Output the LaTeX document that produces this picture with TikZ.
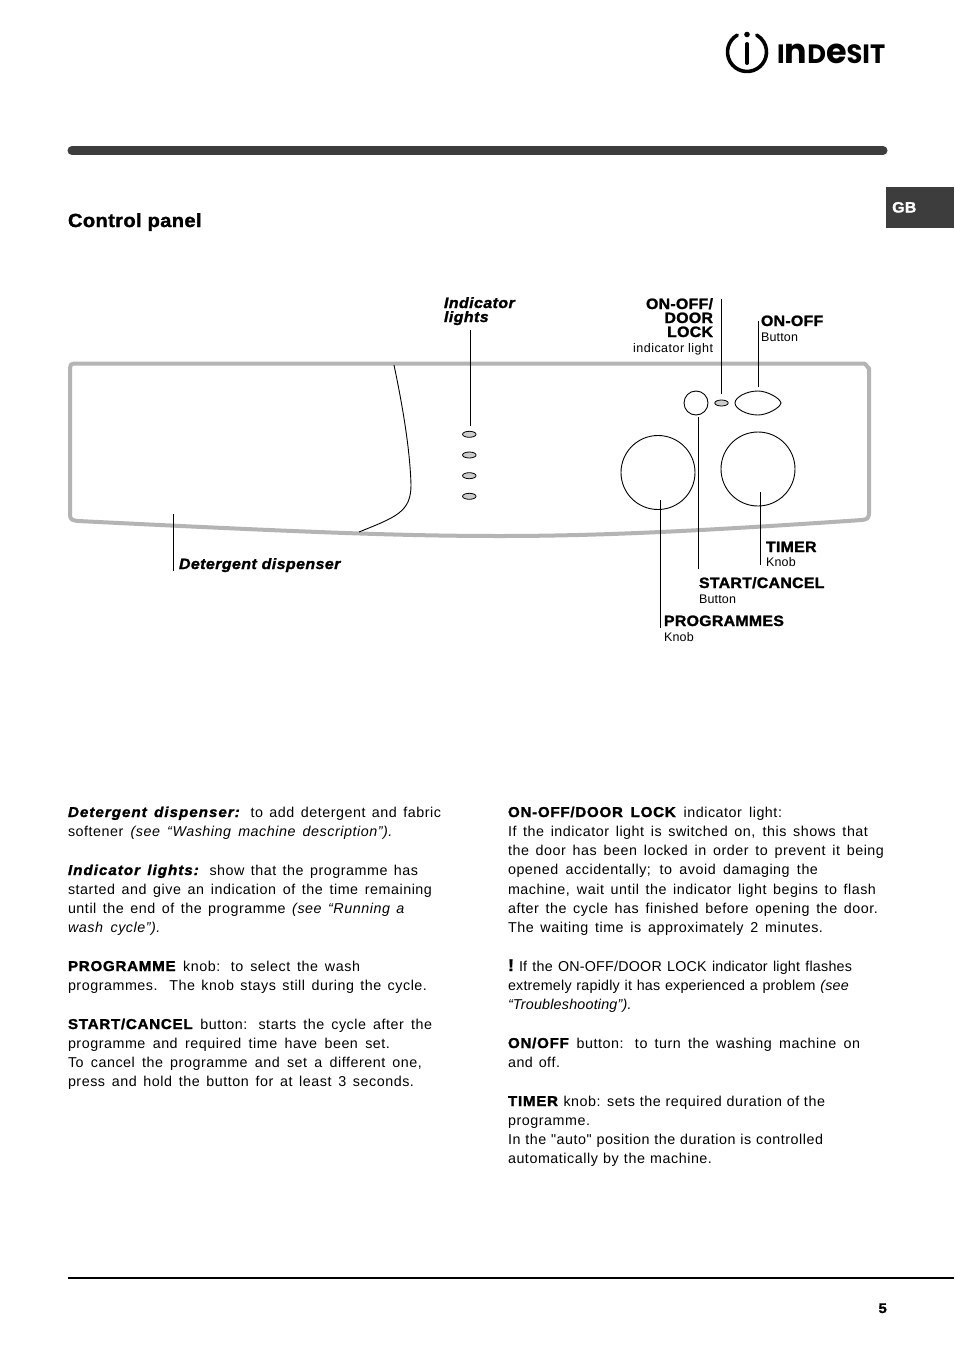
\documentclass[tikz,border=0pt]{standalone}
\usepackage{fontspec}
\usepackage{graphicx}
\usetikzlibrary{shapes.geometric}
\setmainfont{Liberation Sans}[LetterSpace=1.5,BoldFeatures={FakeBold=1.5,FakeStretch=1.06,LetterSpace=1.8},BoldItalicFeatures={FakeBold=1.5,FakeStretch=1.06,LetterSpace=3}]
\newfontfamily\trk{Liberation Sans}[LetterSpace=3.8,BoldFeatures={FakeBold=1.5,FakeStretch=1.06,LetterSpace=5},BoldItalicFeatures={FakeBold=1.5,FakeStretch=1.06,LetterSpace=7}]
\newfontfamily\logofont{Poppins}[UprightFont={* Bold}]
\newcommand{\fsz}[1]{\fontsize{#1pt}{#1pt}\selectfont}
\newcommand{\jl}[5]{\node[bodyline] (#1) at (#2,#3) {\makebox[#4pt][s]{\trk\fsz{14.3}#5}};}
\newcommand{\jlt}[5]{\node[bodyline] (#1) at (#2,#3) {\makebox[#4pt][s]{\fsz{14.3}#5}};}
\definecolor{panelgray}{HTML}{B4B4B4}
\definecolor{ledgray}{HTML}{CCCCCC}
\definecolor{bardark}{HTML}{3D3D3D}
\tikzset{
  panelline/.style={draw=panelgray,line width=4pt,line join=round},
  thinline/.style={draw=black,line width=0.9pt},
  leader/.style={draw=black,line width=0.9pt},
  led/.style={ellipse,draw=black,fill=ledgray,line width=0.8pt,minimum width=13.5pt,minimum height=6pt,inner sep=0pt},
  knob/.style={circle,draw=black,fill=white,line width=0.9pt,inner sep=0pt},
  bodyline/.style={anchor=base west,inner sep=0pt,outer sep=0pt},
  lab/.style={anchor=base west,inner sep=0pt,outer sep=0pt,font=\fsz{15}\bfseries},
  labr/.style={anchor=base east,inner sep=0pt,outer sep=0pt,font=\fsz{15}\bfseries},
  sub/.style={anchor=base west,inner sep=0pt,outer sep=0pt,font=\fsz{12.5}},
  subr/.style={anchor=base east,inner sep=0pt,outer sep=0pt,font=\trk\fsz{12.5}},
}
\begin{document}
\begin{tikzpicture}[x=1pt,y=-1pt]
\path[use as bounding box,fill=white] (0,0) rectangle (954,1351);
% logo
\draw[line width=3.6pt,black,line cap=round] (737.25,35.1) arc[start angle=240,end angle=-60,radius=19.5];
\fill[black] (747,34.5) circle (2.8pt);
\draw[line width=4pt,black,line cap=round] (747,44) -- (747,63);
\node[anchor=south west,inner sep=0pt] (logotext) at (777,63.5) {\resizebox{108pt}{19.5pt}{\logofont I\scalebox{1.3}{n}D\scalebox{1.3}{e}SIT}};
% top bar
\draw[bardark,line width=9pt,line cap=round] (72,150.5) -- (883,150.5);
% tab
\node[anchor=north west,fill=bardark,minimum width=68pt,minimum height=41pt,inner sep=0pt] (tab) at (886,187) {};
\node[anchor=base west,inner sep=0pt,text=white,font=\fsz{15}\bfseries] (gb) at (892,212.5) {GB};
% heading
\node[lab,font=\fsz{19}\bfseries] (title) at (68,227) {Control panel};
% panel
\draw[panelline,fill=white] (79,363.5) -- (864,363.5) to[out=0,in=-90,looseness=0.8] (869,368) -- (869,513)
  .. controls (869,518) and (867,519.5) .. (862,520)
  .. controls (700,531) and (600,536) .. (500,536)
  .. controls (400,536) and (300,532) .. (78,521)
  .. controls (72,520.5) and (70,519) .. (70,515) -- (70,368) .. controls (70,365) and (71,363.5) .. (74,363.5) -- cycle;
\coordinate (dtop) at (394,365);
\coordinate (dbot) at (359,532);
\draw[thinline] (dtop) .. controls (403,408) and (410,450) .. (411,485) .. controls (411,512) and (396,517) .. (dbot);
% panel elements
\node[led] (l1) at (469.3,434.3) {};
\node[led] (l2) at (469.3,455) {};
\node[led] (l3) at (469.3,475.7) {};
\node[led] (l4) at (469.3,496.3) {};
\node[led] (doorled) at (721.5,403) {};
\node[knob,minimum size=24pt] (startbtn) at (696,403) {};
\node[knob,minimum size=74pt] (progknob) at (658,472.5) {};
\node[knob,minimum size=74pt] (timerknob) at (758,469) {};
\coordinate (onL) at (735,403);
\coordinate (onR) at (781,403);
\draw[thinline,fill=white] (onL) .. controls (735,397.5) and (746,391) .. (758,391) .. controls (767,391) and (780,398) .. (onR) .. controls (780,408) and (767,415) .. (758,415) .. controls (746,415) and (735,408.5) .. (onL) -- cycle;
% labels
\node[lab,font=\fsz{15}\bfseries\itshape] (ind1) at (444,308) {Indicator};
\node[lab,font=\fsz{15}\bfseries\itshape] (ind2) at (444,322) {lights};
\node[labr] (d1) at (713,309) {ON-OFF/};
\node[labr] (d2) at (713,323) {DOOR};
\node[labr] (d3) at (713,337) {LOCK};
\node[subr] (d4) at (713,352) {indicator light};
\node[lab] (o1) at (761,326) {ON-OFF};
\node[sub] (o2) at (761,341) {Button};
\node[lab] (t1) at (766,552) {TIMER};
\node[sub] (t2) at (766,566) {Knob};
\node[lab] (s1) at (699,588) {START/CANCEL};
\node[sub] (s2) at (699,603) {Button};
\node[lab] (p1) at (664,626) {PROGRAMMES};
\node[sub] (p2) at (664,641) {Knob};
\node[lab,font=\fsz{15}\bfseries\itshape] (dd) at (179,569) {Detergent dispenser};
% leaders
\coordinate (a1) at (470.5,330); \coordinate (a2) at (470.5,426);
\coordinate (b1) at (173,514); \coordinate (b2) at (173,571);
\coordinate (c1) at (721.5,299); \coordinate (c2) at (721.5,394);
\coordinate (e1) at (758,321); \coordinate (e2) at (758,387);
\coordinate (f1) at (698.5,417); \coordinate (f2) at (698.5,569);
\coordinate (g1) at (760,492); \coordinate (g2) at (760,565);
\coordinate (h1) at (660.5,500); \coordinate (h2) at (660.5,628);
\foreach \u/\v in {a1/a2,b1/b2,c1/c2,e1/e2,f1/f2,g1/g2,h1/h2} \draw[leader] (\u) -- (\v);
% left column
\jl{a}{68}{817}{373}{\textbf{\textit{Detergent dispenser:}} to add detergent and fabric}
\jl{b}{68}{836}{325}{softener \textit{(see “Washing machine description”).}}
\jl{c}{68}{875}{350}{\textbf{\textit{Indicator lights:}} show that the programme has}
\jl{d}{68}{894}{364}{started and give an indication of the time remaining}
\jl{e}{68}{913}{337}{until the end of the programme \textit{(see “Running a}}
\jl{f}{68}{932}{93}{\textit{wash cycle”).}}
\jl{g}{68}{971}{292}{\textbf{PROGRAMME} knob: to select the wash}
\jl{h}{68}{990}{359}{programmes. The knob stays still during the cycle.}
\jl{i}{68}{1029}{364}{\textbf{START/CANCEL} button: starts the cycle after the}
\jl{j}{68}{1048}{322}{programme and required time have been set.}
\jl{k}{68}{1067}{354}{To cancel the programme and set a different one,}
\jl{m}{68}{1086}{346}{press and hold the button for at least 3 seconds.}
% right column
\jl{n}{508}{817}{274}{\textbf{ON-OFF/DOOR LOCK} indicator light:}
\jl{o}{508}{836}{360}{If the indicator light is switched on, this shows that}
\jl{q}{508}{855}{376}{the door has been locked in order to prevent it being}
\jl{r}{508}{874}{310}{opened accidentally; to avoid damaging the}
\jl{s}{508}{894}{368}{machine, wait until the indicator light begins to flash}
\jl{t}{508}{913}{370}{after the cycle has finished before opening the door.}
\jl{u}{508}{932}{315}{The waiting time is approximately 2 minutes.}
\node[bodyline,font=\fsz{17}\bfseries] (excl) at (508,971) {!};
\jlt{v}{519}{971}{333}{If the ON-OFF/DOOR LOCK indicator light flashes}
\jlt{w}{508}{990}{341}{extremely rapidly it has experienced a problem \textit{(see}}
\jlt{x}{508}{1009}{130}{\textit{“Troubleshooting”).}}
\jl{y}{508}{1048}{352}{\textbf{ON/OFF} button: to turn the washing machine on}
\jl{z}{508}{1067}{52}{and off.}
\jl{aa}{508}{1106}{317}{\textbf{TIMER} knob: sets the required duration of the}
\jl{ab}{508}{1125}{83}{programme.}
\jl{ac}{508}{1144}{315}{In the \symbol{34}auto\symbol{34} position the duration is controlled}
\jl{ad}{508}{1163}{204}{automatically by the machine.}
% bottom
\coordinate (r1) at (68,1278); \coordinate (r2) at (954,1278);
\draw[black,line width=2pt] (r1) -- (r2);
\node[anchor=base east,inner sep=0pt,font=\fsz{14}\bfseries] (pg) at (887,1313) {5};
\end{tikzpicture}
\end{document}
